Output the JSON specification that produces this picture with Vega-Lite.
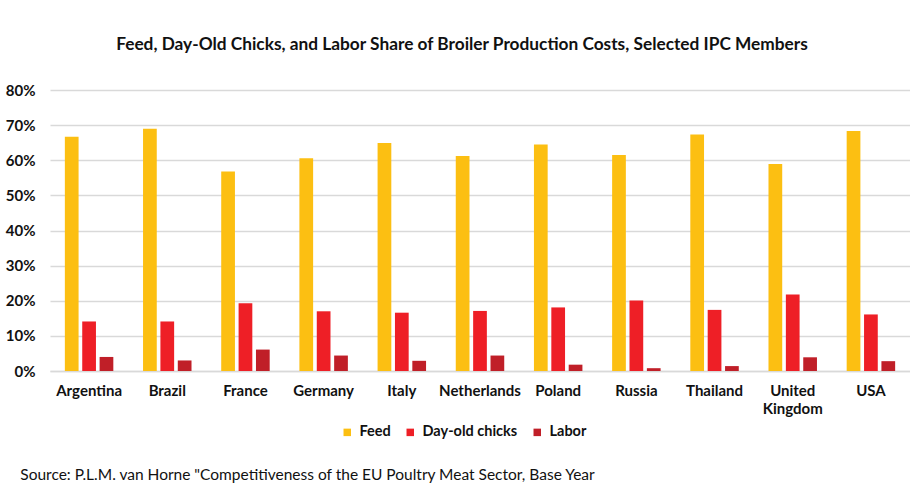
{
  "$schema": "https://vega.github.io/schema/vega-lite/v6.json",
  "padding": {"left": 5, "top": 35, "right": 0, "bottom": 5},
  "background": "white",
  "title": {
    "text": "Source: P.L.M. van Horne \"Competitiveness of the EU Poultry Meat Sector, Base Year",
    "orient": "bottom",
    "anchor": "start",
    "font": "Lato",
    "fontSize": 15.5,
    "fontWeight": "normal",
    "color": "#111111",
    "dx": 15,
    "offset": 29
  },
  "config": {
    "view": {"stroke": null},
    "font": "Lato"
  },
  "vconcat": [
    {
      "width": 860,
      "height": 281,
      "title": {
        "text": "Feed, Day-Old Chicks, and Labor Share of Broiler Production Costs, Selected IPC Members",
        "anchor": "middle",
        "fontSize": 17.3,
        "fontWeight": "bold",
        "color": "#111111",
        "dx": -18,
        "offset": 30
      },
      "data": {
        "values": [
          {"country": "Argentina", "cost": "Feed", "share": 0.667},
          {"country": "Argentina", "cost": "Day-old chicks", "share": 0.141},
          {"country": "Argentina", "cost": "Labor", "share": 0.040},
          {"country": "Brazil", "cost": "Feed", "share": 0.690},
          {"country": "Brazil", "cost": "Day-old chicks", "share": 0.141},
          {"country": "Brazil", "cost": "Labor", "share": 0.030},
          {"country": "France", "cost": "Feed", "share": 0.568},
          {"country": "France", "cost": "Day-old chicks", "share": 0.193},
          {"country": "France", "cost": "Labor", "share": 0.061},
          {"country": "Germany", "cost": "Feed", "share": 0.606},
          {"country": "Germany", "cost": "Day-old chicks", "share": 0.170},
          {"country": "Germany", "cost": "Labor", "share": 0.044},
          {"country": "Italy", "cost": "Feed", "share": 0.649},
          {"country": "Italy", "cost": "Day-old chicks", "share": 0.166},
          {"country": "Italy", "cost": "Labor", "share": 0.029},
          {"country": "Netherlands", "cost": "Feed", "share": 0.612},
          {"country": "Netherlands", "cost": "Day-old chicks", "share": 0.171},
          {"country": "Netherlands", "cost": "Labor", "share": 0.044},
          {"country": "Poland", "cost": "Feed", "share": 0.645},
          {"country": "Poland", "cost": "Day-old chicks", "share": 0.181},
          {"country": "Poland", "cost": "Labor", "share": 0.018},
          {"country": "Russia", "cost": "Feed", "share": 0.615},
          {"country": "Russia", "cost": "Day-old chicks", "share": 0.201},
          {"country": "Russia", "cost": "Labor", "share": 0.008},
          {"country": "Thailand", "cost": "Feed", "share": 0.673},
          {"country": "Thailand", "cost": "Day-old chicks", "share": 0.174},
          {"country": "Thailand", "cost": "Labor", "share": 0.014},
          {"country": "United Kingdom", "cost": "Feed", "share": 0.589},
          {"country": "United Kingdom", "cost": "Day-old chicks", "share": 0.218},
          {"country": "United Kingdom", "cost": "Labor", "share": 0.039},
          {"country": "USA", "cost": "Feed", "share": 0.683},
          {"country": "USA", "cost": "Day-old chicks", "share": 0.161},
          {"country": "USA", "cost": "Labor", "share": 0.028}
        ]
      },
      "mark": {"type": "bar"},
      "encoding": {
        "x": {
          "field": "country",
          "type": "nominal",
          "sort": null,
          "scale": {"paddingInner": 0.38, "paddingOuter": 0.19},
          "axis": {
            "title": null,
            "labelAngle": 0,
            "labelExpr": "split(datum.label, ' ')",
            "labelFontSize": 15,
            "labelFontWeight": "bold",
            "labelColor": "#111111",
            "labelPadding": 12,
            "labelLineHeight": 18,
            "labelOverlap": false,
            "ticks": false,
            "domainColor": "#d9d9d9",
            "domainWidth": 1.5
          }
        },
        "xOffset": {
          "field": "cost",
          "type": "nominal",
          "sort": ["Feed", "Day-old chicks", "Labor"],
          "scale": {"paddingInner": 0.21}
        },
        "y": {
          "field": "share",
          "type": "quantitative",
          "scale": {"domain": [0, 0.8]},
          "axis": {
            "title": null,
            "format": ".0%",
            "values": [0, 0.1, 0.2, 0.3, 0.4, 0.5, 0.6, 0.7, 0.8],
            "labelFontSize": 15,
            "labelFontWeight": "bold",
            "labelColor": "#111111",
            "labelPadding": 15,
            "ticks": false,
            "domain": false,
            "gridColor": "#d9d9d9",
            "gridWidth": 1.5
          }
        },
        "color": {
          "field": "cost",
          "type": "nominal",
          "sort": ["Feed", "Day-old chicks", "Labor"],
          "scale": {
            "domain": ["Feed", "Day-old chicks", "Labor"],
            "range": ["#FCBF12", "#EE1F26", "#C01F28"]
          },
          "legend": {
            "orient": "none",
            "legendX": 290,
            "legendY": 335,
            "title": null,
            "direction": "horizontal",
            "symbolType": "square",
            "symbolSize": 56,
            "symbolStrokeWidth": 0,
            "labelFontSize": 14.5,
            "labelFontWeight": "bold",
            "labelColor": "#111111",
            "labelOffset": 5,
            "columnPadding": 12
          }
        }
      }
    }
  ]
}
